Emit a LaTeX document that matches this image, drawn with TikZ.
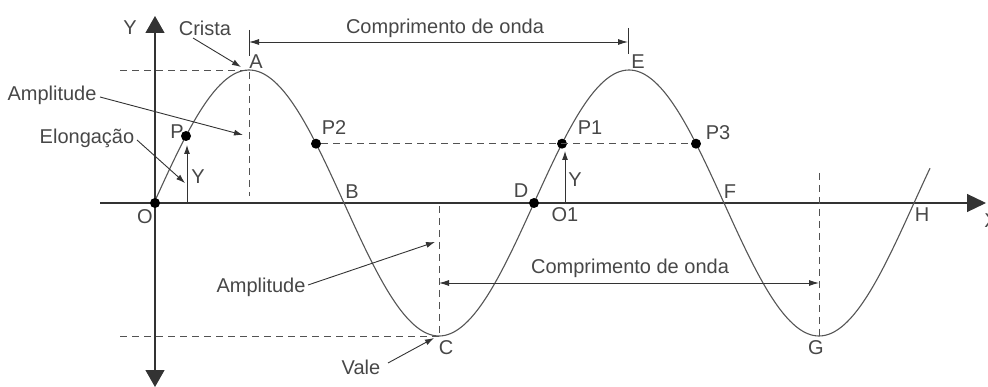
\documentclass[tikz,border=0pt]{standalone}
\usepackage{fontspec}
\setmainfont{Liberation Sans}
\usetikzlibrary{arrows.meta}
\definecolor{ink}{HTML}{333333}
\definecolor{wavec}{HTML}{555555}
\definecolor{txt}{HTML}{474747}
\begin{document}
\begin{tikzpicture}[x=1pt,y=-1pt,
  lbl/.style={font=\fontsize{20}{20}\selectfont, text=txt, inner sep=0pt},
  dot/.style={circle, fill=black, inner sep=0pt, minimum size=10pt},
  axisline/.style={draw=ink, line width=1.2pt},
  dsh/.style={draw=ink!85, line width=0.9pt, dash pattern=on 7pt off 5pt},
  pointer/.style={draw=ink, line width=0.9pt, -{Latex[length=9pt,width=6pt]}},
  dimline/.style={draw=ink, line width=0.9pt, {Latex[length=10pt,width=6pt]}-{Latex[length=10pt,width=6pt]}},
  tick/.style={draw=ink, line width=0.9pt},
]
\useasboundingbox (0,0) rectangle (988,387);

% axes
\coordinate (xl) at (100,203);
\coordinate (xr) at (986,203);
\coordinate (yt) at (155,16);
\coordinate (yb) at (155,387);
\draw[axisline, -{Triangle[length=19pt,width=18pt]}] (xl) -- (xr);
\draw[axisline, {Triangle[length=17pt,width=19pt]}-{Triangle[length=17pt,width=19pt]}] (yb) -- (yt);

% wave
\draw[wavec, line width=1.1pt] plot[domain=155:930, samples=300, smooth] (\x,{203-133*sin(0.9473684*(\x-154))});

% key points
\coordinate (A) at (249,70);
\coordinate (C) at (439,336);
\coordinate (G) at (819,336);
\node[dot] (O) at (155,203) {};
\node[dot] (P) at (186,136) {};
\node[dot] (P2) at (316,143.7) {};
\node[dot] (P1) at (562,143.7) {};
\node[dot] (P3) at (696,143.7) {};
\node[dot] (D) at (534,203) {};

% dashed guides
\coordinate (hA) at (120,70);
\coordinate (vAt) at (249,72);
\coordinate (vAb) at (249,196);
\draw[dsh] (hA) -- (A);
\draw[dsh] (vAt) -- (vAb);
\coordinate (vCt) at (439,206);
\draw[dsh] (vCt) -- (C);
\coordinate (hC) at (120,336);
\draw[dsh] (hC) -- (C);
\coordinate (vGt) at (819,173);
\draw[dsh] (vGt) -- (G);
\draw[dsh] (P2) -- (P3);

% wavelength dimensions
\coordinate (t1a) at (249,30);
\coordinate (t1b) at (249,56);
\coordinate (t2a) at (628,28);
\coordinate (t2b) at (628,54);
\draw[tick] (t1a) -- (t1b);
\draw[tick] (t2a) -- (t2b);
\coordinate (d1l) at (249,42);
\coordinate (d1r) at (628,42);
\draw[dimline] (d1l) -- (d1r);
\coordinate (d2l) at (439,283);
\coordinate (d2r) at (819,283);
\draw[dimline] (d2l) -- (d2r);

% elongation arrows
\coordinate (e1b) at (187,203);
\coordinate (e1t) at (187,145);
\draw[pointer] (e1b) -- (e1t);
\coordinate (e2b) at (565,203);
\coordinate (e2t) at (565,151);
\draw[pointer] (e2b) -- (e2t);

% labels
\node[lbl] (ylab) at (130,28) {Y};
\node[lbl] (crista) at (205,28) {Crista};
\node[lbl] (lA) at (256,62) {A};
\node[lbl] (lE) at (638,62) {E};
\node[lbl] (lP) at (177,132) {P};
\node[lbl] (lP2) at (334,128) {P2};
\node[lbl] (lP1) at (590,128) {P1};
\node[lbl] (lP3) at (718,133) {P3};
\node[lbl] (lB) at (352,192) {B};
\node[lbl] (lD) at (521,191) {D};
\node[lbl] (lF) at (730,192) {F};
\node[lbl] (lH) at (922,215) {H};
\node[lbl] (lO) at (145,217) {O};
\node[lbl] (lO1) at (565,215) {O1};
\node[lbl] (lC) at (446,348) {C};
\node[lbl] (lG) at (816,348) {G};
\node[lbl] (vale) at (361,367) {Vale};
\node[lbl] (amp1) at (52,95) {Amplitude};
\node[lbl] (amp2) at (261,287) {Amplitude};
\node[lbl] (elong) at (87,138) {Elongação};
\node[lbl] (y1) at (198,177) {Y};
\node[lbl] (y2) at (575,180) {Y};
\node[lbl] (comp1) at (445,28) {Comprimento de onda};
\node[lbl] (comp2) at (630,268) {Comprimento de onda};
\node[lbl] (xlab) at (991,221) {X};

% pointer arrows
\coordinate (cT) at (193,38);
\coordinate (cH) at (241,67);
\draw[pointer] (cT) -- (cH);
\coordinate (a1T) at (100,97);
\coordinate (a1H) at (243,135);
\draw[pointer] (a1T) -- (a1H);
\coordinate (elT) at (137,140);
\coordinate (elH) at (185,183);
\draw[pointer] (elT) -- (elH);
\coordinate (a2T) at (308,285);
\coordinate (a2H) at (435,242);
\draw[pointer] (a2T) -- (a2H);
\coordinate (vT) at (388,363);
\coordinate (vH) at (434,338);
\draw[pointer] (vT) -- (vH);
\end{tikzpicture}
\end{document}
